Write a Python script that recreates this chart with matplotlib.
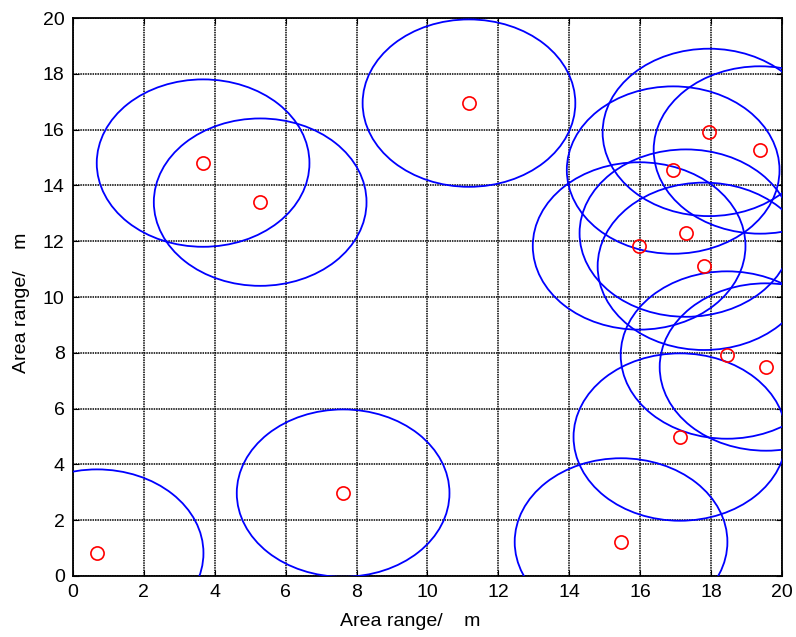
import numpy as np
import matplotlib
matplotlib.use('Agg')
import matplotlib.pyplot as plt
from matplotlib.patches import Circle

# node positions (m)
node_x = [0.68, 3.67, 5.28, 7.62, 11.17, 15.46, 15.97, 16.93, 17.29, 17.12, 17.8, 17.94, 18.45, 19.38, 19.55]
node_y = [0.82, 14.8, 13.4, 2.97, 16.95, 1.22, 11.83, 14.55, 12.29, 4.98, 11.1, 15.9, 7.92, 15.27, 7.49]
sense_r = 3.0

ticks = np.arange(0, 21, 2)

plt.rcParams['font.family'] = ['Liberation Sans', 'DejaVu Sans']

fig = plt.figure(figsize=(7.96, 6.37), dpi=100)
ax = fig.add_axes([0.0917, 0.0958, 0.8907, 0.8759])

# coverage circles
for cx, cy in zip(node_x, node_y):
    c = Circle((cx, cy), sense_r, fill=False, edgecolor='#0000ff', linewidth=1.3, zorder=3)
    ax.add_patch(c)

ax.plot(node_x, node_y, 'o', markersize=9.5, markerfacecolor='none',
        markeredgecolor='#ff0000', markeredgewidth=1.2, zorder=4)

ax.set_xlim(0, 20)
ax.set_ylim(0, 20)
ax.set_xticks(ticks)
ax.set_yticks(ticks)
ax.grid(True, color='black', linestyle=(0, (1, 0.6)), linewidth=1.1)
ax.set_axisbelow(True)
ax.tick_params(direction='in', labelsize=14, pad=6, top=True, right=True, length=4)
for s in ax.spines.values():
    s.set_linewidth(1.3)

ax.set_xlabel('Area range/    m', fontsize=14)
ax.set_ylabel('Area range/    m', fontsize=14)
ax.xaxis.set_label_coords(0.476, -0.066)
ax.yaxis.set_label_coords(-0.061, 0.489)

plt.savefig('out.png', dpi=100)
plt.close()
